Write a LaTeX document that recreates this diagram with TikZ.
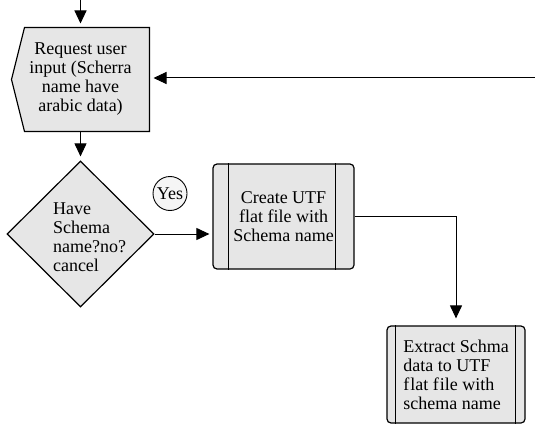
\documentclass[tikz,border=0pt]{standalone}
\usepackage{fontspec}
\setmainfont{Liberation Serif}
\usetikzlibrary{arrows.meta,shapes.geometric,backgrounds}
\definecolor{boxgray}{HTML}{E6E6E6}
\begin{document}
\begin{tikzpicture}[x=1pt,y=-1pt,
  line width=1pt,
  >={Triangle[width=12pt,length=13pt]},
  txt/.style={font=\fontsize{18}{19}\selectfont, inner sep=0pt},
  shapebox/.style={draw, fill=boxgray, line width=1.2pt},
  procbox/.style={shapebox, txt, rounded corners=4pt},
  conn/.style={->, line width=1pt}]
\useasboundingbox (0,0) rectangle (535,433);

% input shape
\node[txt, minimum width=137pt, minimum height=103pt, align=center] (inp) at (80.5,79.5)
  {Request user\\input (Scherra\\name have\\arabic data)};
\begin{scope}[on background layer]
  \draw[shapebox] ([xshift=13pt]inp.north west) -- (inp.north east) -- (inp.south east)
    -- ([xshift=13pt]inp.south west) -- (inp.west) -- cycle;
\end{scope}

% decision
\node[diamond, shapebox, minimum width=147pt, minimum height=146pt, inner sep=0pt] (dia) at (80.5,234) {};
\node[txt, align=left] (diat) at (89.5,237) {Have\\Schema\\name?no?\\cancel};

% yes
\node[circle, draw, fill=gray!8, minimum size=34pt, inner sep=0pt, line width=0.9pt,
  font=\fontsize{18}{18}\selectfont] (yes) at (170,193.5) {Yes};

% process 1
\node[procbox, minimum width=141pt, minimum height=105pt, align=center] (b1) at (283.5,216.5)
  {Create UTF\\flat file with\\Schema name};
\draw[line width=1.2pt] ([xshift=16pt]b1.north west) -- ([xshift=16pt]b1.south west);
\draw[line width=1.2pt] ([xshift=-19pt]b1.north east) -- ([xshift=-19pt]b1.south east);

% process 2
\node[procbox, minimum width=138pt, minimum height=97pt, align=left] (b2) at (456,374.5)
  {Extract Schma\\data to UTF\\f\kern1pt lat f\kern1pt ile with\\schema name};
\draw[line width=1.2pt] ([xshift=9pt]b2.north west) -- ([xshift=9pt]b2.south west);
\draw[line width=1.2pt] ([xshift=-10pt]b2.north east) -- ([xshift=-10pt]b2.south east);

% connectors
\coordinate (top) at (80.5,0);
\coordinate (rt) at (535,78);
\draw[conn, shorten >=4pt] (top) -- (inp.north);
\draw[conn, shorten >=4pt] (inp.south) -- (dia.north);
\draw[conn, shorten >=3pt] (dia.east) -- (dia.east -| b1.west);
\draw[conn, shorten >=4pt] (rt) -- (rt -| inp.east);
\draw[conn, shorten >=7pt] (b1.east) -| (b2.north);
\end{tikzpicture}
\end{document}
